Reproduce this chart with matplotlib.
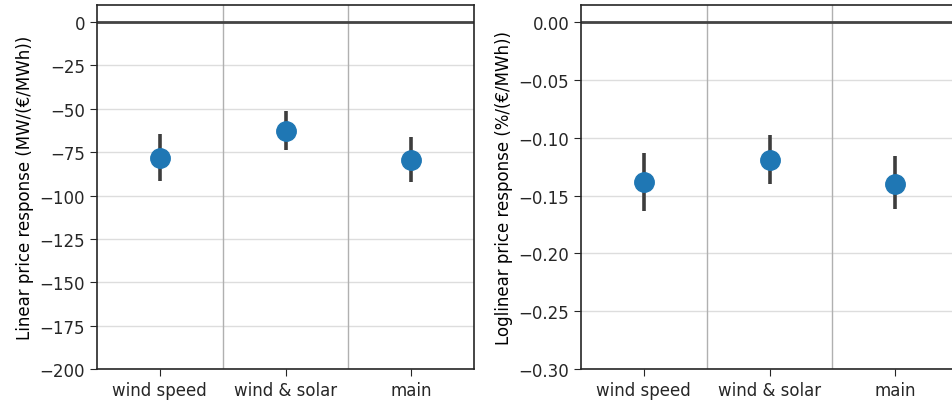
"""Price response estimates per model specification (two panels)."""

import matplotlib.pyplot as plt
import numpy as np

models = ["wind speed", "wind & solar", "main"]

linear_est = [-78.5, -63.0, -79.5]
linear_lo = [-91.5, -73.8, -92.4]
linear_hi = [-64.6, -51.1, -66.5]

loglin_est = [-0.138, -0.119, -0.140]
loglin_lo = [-0.163, -0.140, -0.162]
loglin_hi = [-0.113, -0.098, -0.116]


def draw_panel(ax, est, lo, hi, ylim, yticks, ylabel, fmt):
    x = np.arange(len(models))
    ax.axhline(0, color="#444444", lw=2, zorder=2)
    for v in yticks:
        ax.axhline(v, color="#dddddd", lw=1, zorder=0)
    for b in x[:-1] + 0.5:
        ax.axvline(b, color="#b0b0b0", lw=1, zorder=1)
    ax.vlines(x, lo, hi, color="#3d3d3d", lw=2.6, zorder=3)
    ax.plot(x, est, "o", color="#1f77b4", ms=14, zorder=4, ls="none")
    ax.set_xlim(-0.5, len(models) - 0.5)
    ax.set_ylim(*ylim)
    ax.set_xticks(x)
    ax.set_xticklabels(models)
    ax.set_yticks(yticks)
    ax.set_yticklabels([fmt(v) for v in yticks])
    ax.set_ylabel(ylabel, fontsize=12)
    ax.tick_params(labelsize=12, colors="#262626", length=5)
    for s in ax.spines.values():
        s.set_color("#262626")
        s.set_linewidth(1.2)


def minus(s):
    return s.replace("-", "\u2212")


fig = plt.figure(figsize=(9.52, 4.06), dpi=100)
ax1 = fig.add_axes([97 / 952, 1 - 370 / 406, 377 / 952, 364 / 406])
ax2 = fig.add_axes([581 / 952, 1 - 370 / 406, 377 / 952, 364 / 406])

draw_panel(
    ax1, linear_est, linear_lo, linear_hi, (-200, 9.8),
    np.arange(-200, 1, 25), "Linear price response (MW/(€/MWh))",
    lambda v: minus(f"{v:g}"),
)
draw_panel(
    ax2, loglin_est, loglin_lo, loglin_hi, (-0.30, 0.0147),
    np.round(np.arange(-0.30, 0.001, 0.05), 2) + 0.0, "Loglinear price response (%/(€/MWh))",
    lambda v: minus(f"{abs(v):.2f}" if abs(v) < 1e-9 else f"{v:.2f}"),
)

fig.savefig("out.png", dpi=100)
